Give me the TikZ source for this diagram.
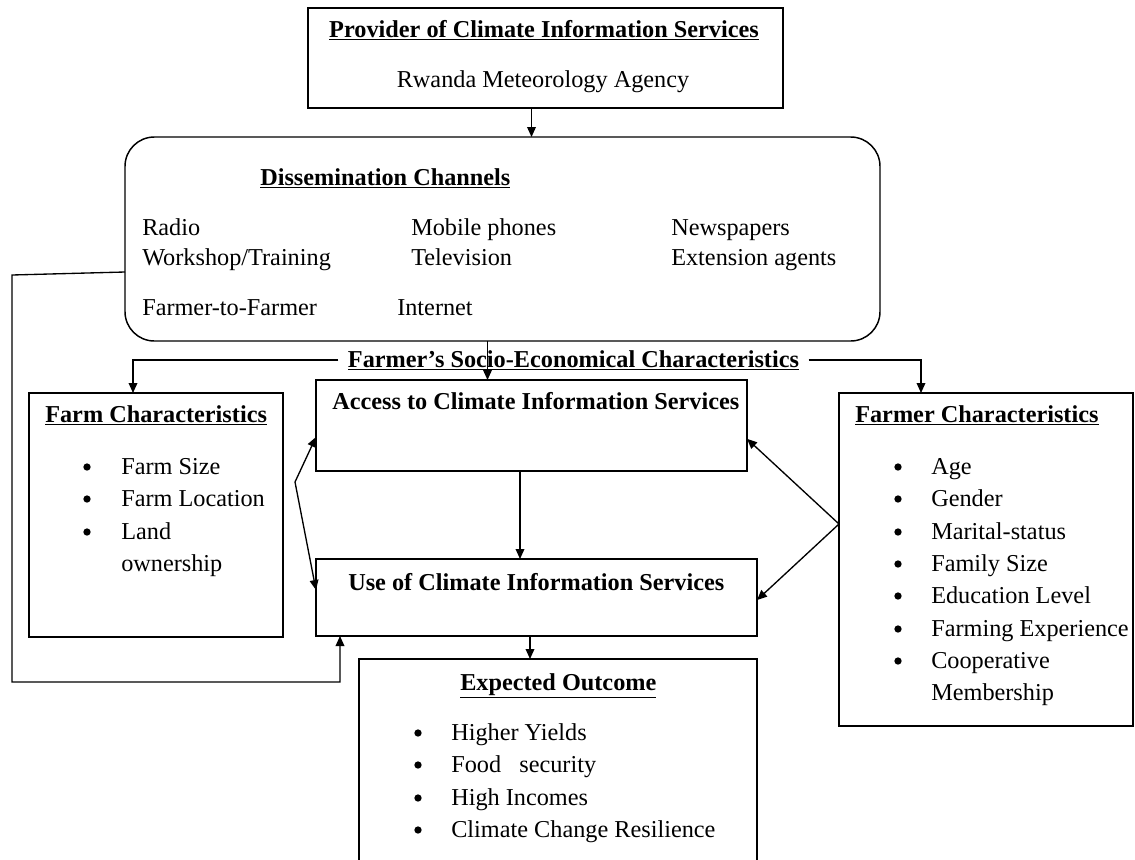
\documentclass[tikz,border=0pt]{standalone}
\usepackage{fontspec}
\setmainfont{Liberation Serif}
\usetikzlibrary{arrows.meta}
\begin{document}
\begin{tikzpicture}[x=0.75pt,y=-0.75pt,
  box/.style={draw, line width=1.1pt, anchor=north west, inner sep=0, outer sep=0},
  txt/.style={inner sep=0, anchor=base west, font=\fontsize{18.2}{22}\selectfont},
  ttl/.style={inner sep=0, anchor=base west, font=\fontsize{18.2}{22}\selectfont\bfseries},
  bul/.style={inner sep=0, anchor=center},
  arr/.style={line width=1pt, -{Triangle[length=7.5pt,width=6.5pt]}},
  ln/.style={line width=1pt}]
\useasboundingbox (0,0) rectangle (1135,860);
\clip (0,0) rectangle (1135,860);
\fill[white] (0,0) rectangle (1135,860);

% boxes
\node[box, minimum width=356.25pt, minimum height=75pt] (top) at (308,8) {};
\node[box, rounded corners=22pt, minimum width=566.25pt, minimum height=153pt] (diss) at (125,137) {};
\node[box, minimum width=190.5pt, minimum height=183pt] (farm) at (29,393) {};
\node[box, minimum width=323.25pt, minimum height=68.25pt] (access) at (316,380) {};
\node[box, minimum width=330.75pt, minimum height=57.75pt] (use) at (316,559) {};
\node[box, minimum width=298.5pt, minimum height=190pt] (outc) at (359,659) {};
\node[box, minimum width=220.5pt, minimum height=249.75pt] (farmer) at (839,393) {};

% top box texts
\node[ttl, anchor=base] (topT) at (544,37) {\underline{Provider of Climate Information Services}};
\node[txt, anchor=base] (topS) at (543,87) {Rwanda Meteorology Agency};

% dissemination texts
\node[ttl] (dissT) at (260,185) {\underline{Dissemination Channels}};
\node[txt] (c1) at (142,235) {Radio};
\node[txt] (c2) at (142,265) {Workshop/Training};
\node[txt] (c3) at (142,315) {Farmer-to-Farmer};
\node[txt] (c4) at (411,235) {Mobile phones};
\node[txt] (c5) at (411,265) {Television};
\node[txt] (c6) at (397,315) {Internet};
\node[txt] (c7) at (671,235) {Newspapers};
\node[txt] (c8) at (671,265) {Extension agents};

% socio-economical label
\node[ttl, anchor=base, inner xsep=7pt] (socio) at (573.5,367) {\underline{Farmer's Socio-Economical Characteristics}};

% access / use texts
\node[ttl] (accT) at (332,409) {Access to Climate Information Services};
\node[ttl] (useT) at (348,590) {Use of Climate Information Services};

% farm characteristics
\node[ttl] (farmT) at (45,422) {\underline{Farm Characteristics}};
\foreach \y [count=\i] in {467,499,532} {
  \node[bul, circle, fill, minimum size=5.5pt] (fb\i) at (87,\y) {};
}
\node[txt] (f1) at (121,474) {Farm Size};
\node[txt] (f2) at (121,506) {Farm Location};
\node[txt] (f3) at (121,539) {Land};
\node[txt] (f4) at (121,571) {ownership};

% farmer characteristics
\node[ttl] (farmerT) at (855,422) {\underline{Farmer Characteristics}};
\foreach \y [count=\i] in {467,499,532,564,596,629,661} {
  \node[bul, circle, fill, minimum size=5.5pt] (gb\i) at (898,\y) {};
}
\node[txt] (g1) at (931,474) {Age};
\node[txt] (g2) at (931,506) {Gender};
\node[txt] (g3) at (931,539) {Marital-status};
\node[txt] (g4) at (931,571) {Family Size};
\node[txt] (g5) at (931,603) {Education Level};
\node[txt] (g6) at (931,636) {Farming Experience};
\node[txt] (g7) at (931,668) {Cooperative};
\node[txt] (g8) at (931,700) {Membership};

% expected outcome
\node[ttl] (outT) at (460,690) {\underline{Expected Outcome}};
\foreach \y [count=\i] in {733,765,798,830} {
  \node[bul, circle, fill, minimum size=5.5pt] (ob\i) at (418,\y) {};
}
\node[txt] (o1) at (451,740) {Higher Yields};
\node[txt] (o2) at (451,772) {Food\ \ \ security};
\node[txt] (o3) at (451,805) {High Incomes};
\node[txt] (o4) at (451,837) {Climate Change Resilience};

% connectors
\draw[arr] ([xshift=-10.5pt]top.south) -- ([xshift=-10.5pt]top.south |- diss.north);
\draw[arr] ([xshift=-11.25pt]diss.south) -- ([xshift=-11.25pt]diss.south |- access.north);
\draw[arr] (socio.west) -| ([xshift=78pt]farm.north west);
\draw[arr] (socio.east) -| ([xshift=61.5pt]farmer.north west);
\draw[arr] ([xshift=153pt]access.south west) -- ([xshift=153pt]access.south west |- use.north);
\draw[arr] ([xshift=160.5pt]use.south west) -- ([xshift=160.5pt]use.south west |- outc.north);

\coordinate (fk) at (295,482);
\draw[arr] (fk) -- ([yshift=-8.6pt]access.west);
\draw[arr] (fk) -- ([yshift=5.6pt]use.west);

\coordinate (gk) at (839,524);
\draw[arr] (gk) -- ([yshift=-10pt]access.east);
\draw[arr] (gk) -- ([yshift=-1.9pt]use.east);

\coordinate (lb1) at (12,275);
\coordinate (lb2) at (12,682);
\draw[arr] ([yshift=-24.75pt]diss.west) -- (lb1) -- (lb2) -| ([xshift=18pt]use.south west);
\end{tikzpicture}
\end{document}
